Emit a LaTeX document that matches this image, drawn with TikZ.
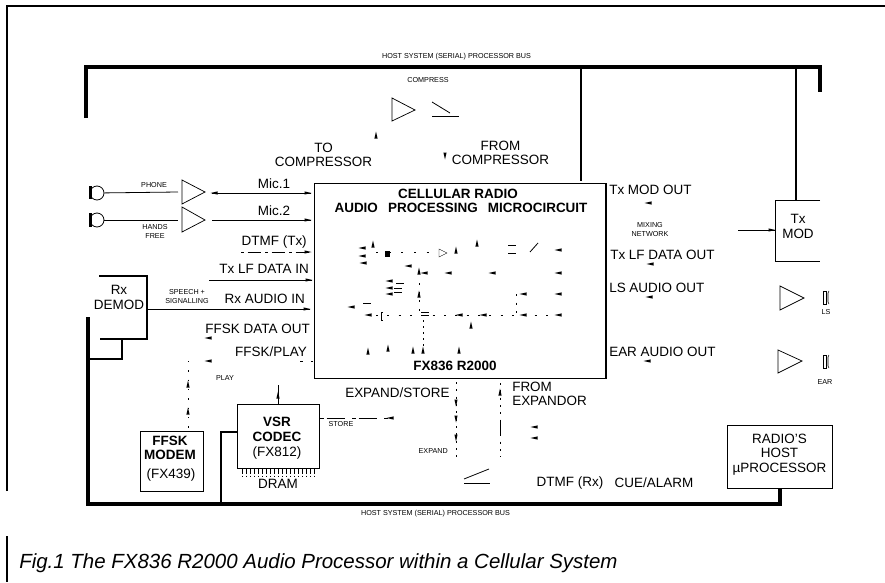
\documentclass[tikz,border=0pt]{standalone}
\usepackage{fontspec}
\setmainfont{Liberation Sans}
\newcommand{\fa}{\fontsize{10.1pt}{11pt}\selectfont}
\newcommand{\fb}{\fontsize{5.4pt}{6.6pt}\selectfont}
\newcommand{\arL}[2]{\fill (#1-3.5,#2) -- (#1+3.5,#2-1.6) -- (#1+3.5,#2+1.6) -- cycle;}
\newcommand{\arR}[2]{\fill (#1+3.5,#2) -- (#1-3.5,#2-1.6) -- (#1-3.5,#2+1.6) -- cycle;}
\newcommand{\arU}[2]{\fill (#1,#2-3.5) -- (#1-1.6,#2+3.5) -- (#1+1.6,#2+3.5) -- cycle;}
\newcommand{\arD}[2]{\fill (#1,#2+3.5) -- (#1-1.6,#2-3.5) -- (#1+1.6,#2-3.5) -- cycle;}
\newcommand{\spk}[2]{\draw[thin] (#1,#2) rectangle (#1+3,#2+13); \draw[thin] (#1+6,#2) -- (#1+5,#2+2) -- (#1+5,#2+11) -- (#1+6,#2+13);}
\tikzset{
  txt/.style={inner sep=0pt,font=\fa,align=center},
  small/.style={inner sep=0pt,font=\fb,align=center},
  bold/.style={inner sep=0pt,font=\fa\bfseries,align=center},
  box/.style={draw,line width=0.8pt,inner sep=0pt},
  bus/.style={line width=3.3pt,line cap=butt},
  midbus/.style={line width=1.6pt},
  sig/.style={line width=0.6pt},
  amp/.style={line width=0.55pt},
}
\begin{document}
\begin{tikzpicture}[x=0.75pt,y=-0.75pt]
\useasboundingbox (0,0) rectangle (885,582);
% frame
\draw[line width=1.1pt] (7,491) -- (7,6) -- (885,6);
\draw[line width=1.1pt] (7,536) -- (7,582);

% blocks
\node[box,minimum width=218.6pt,minimum height=146pt,anchor=north west] (chip) at (314,183) {};
\node[box,line width=0.7pt,minimum width=47pt,minimum height=45pt,anchor=north west] (ffsk) at (140,431) {};
\node[box,minimum width=61.5pt,minimum height=48pt,anchor=north west] (vsr) at (237,404) {};
\node[box,line width=0.6pt,minimum width=78.5pt,minimum height=47pt,anchor=north west] (host) at (727,425) {};
\coordinate (dmNW) at (99,276);
\coordinate (dmNE) at (147,276);
\coordinate (dmSE) at (147,339);
\coordinate (dmSW) at (100,339);
\draw[line width=0.8pt] (dmNW) -- (dmNE) -- (dmSE) -- (dmSW);
\coordinate (modNW) at (775,200);
\coordinate (modSW) at (775,261);
\coordinate (modNE) at (820,200);
\coordinate (modSE) at (820,261);
\draw[line width=0.7pt] (modNE) -- (modNW) -- (modSW) -- (modSE);

% bus
\coordinate (busTL) at (86,67);
\coordinate (busTR) at (820,67);
\draw[bus] (86,118) -- (busTL) -- (busTR) -- (820,92);
\coordinate (busBL) at (88,504);
\coordinate (hostS) at (780,504);
\draw[bus] (88,317) -- (busBL) -- (hostS) -- (780,488);
\coordinate (t1) at (581,67); \coordinate (t1b) at (581,181);
\draw[midbus] (t1) -- (t1b);
\coordinate (t2) at (796,67);
\draw[midbus] (t2) -- (796,200);
\coordinate (b1) at (221,504); \coordinate (vsrW) at (237,432);
\draw[line width=1.7pt] (b1) -- (221,432) -- (vsrW);
\draw[line width=1.2pt] (122,339) -- (122,359) -- (88,359);

% mics
\node[draw,circle,line width=0.6pt,minimum size=10.5pt,inner sep=0pt] (m1) at (97,193) {};
\node[draw,circle,line width=0.6pt,minimum size=10.5pt,inner sep=0pt] (m2) at (97,220) {};
\draw[line width=1.7pt] (90.5,186) -- (90.5,199);
\draw[line width=1.7pt] (90.5,213) -- (90.5,227);
\coordinate (a1) at (178,192); \coordinate (a2) at (178,220);
\draw[sig] (m1) -- (a1);
\draw[sig] (m2) -- (a2);
\draw[amp] (182,180) -- (205,192) -- (182,204) -- cycle;
\draw[amp] (182,207) -- (205,220) -- (182,232) -- cycle;
\coordinate (i1) at (212,193); \coordinate (i2) at (212,220);
\coordinate (c1) at (311,193); \coordinate (c2) at (311,220);
\draw[sig] (i1) -- (c1); \draw[sig] (i2) -- (c2);
\arR{308}{193} \arR{308}{220} \arL{214}{193}
\draw[sig] (209,280) -- (312,280); \arR{309}{280}
\draw[line width=0.3pt,dash pattern=on 2pt off 3pt on 10pt off 3pt] (241,252) -- (311,252); \arR{308}{252}
\draw[sig] (dmSE |- 0,309) -- (310,309); \arR{307}{309}
\arL{208}{338} \arL{208}{361}
\draw[line width=0.25pt,dash pattern=on 1pt off 6pt] (188,361) -- (188,431);
\arU{188}{384} \arU{188}{411}
\draw[line width=0.3pt,dash pattern=on 2pt off 6pt] (300,361) -- (314,361);
\draw[sig] (278,385) -- (278,404); \arU{278}{395}
\draw[line width=0.3pt,dash pattern=on 3pt off 2pt on 14pt off 5pt] (320,418) -- (390,418); \arL{390}{418}
% pins
\foreach \x in {242,246,...,314} {\draw[line width=0.3pt,dash pattern=on 4pt off 1pt] (\x,469) -- (\x,477);}

% compressor
\draw[amp] (392,98) -- (415,110) -- (392,121) -- cycle;
\draw[sig] (432,102) -- (450,113);
\draw[sig] (432,116) -- (459,116);
\arU{376}{135} \arD{445}{156}
% expander
\draw[sig] (464,479) -- (489,469);
\draw[sig] (464,483) -- (490,483);
\draw[line width=0.25pt,dash pattern=on 1.5pt off 4pt] (456,382) -- (456,458);
\arD{456}{403} \arD{456}{419} \arD{456}{438}
\draw[line width=0.25pt,dash pattern=on 1.5pt off 4pt] (500,383) -- (500,457);
\draw[line width=0.4pt] (500,420) -- (500,436);
\arU{500}{392} \arL{534}{427} \arL{534}{438}
% right side
\arL{648}{203} \arL{650}{264} \arL{649}{297} \arL{647}{361}
\coordinate (mixR) at (738,230);
\draw[sig] (mixR) -- (775,230); \arR{772}{230}
\draw[amp] (780,286) -- (804,298) -- (780,310) -- cycle;
\draw[amp] (778,350) -- (802,361) -- (778,373) -- cycle;
\spk{823}{291} \spk{823}{355}

% chip internals
\foreach \a/\b in {362/248,362/256,363/263,408/266,424/273,448/273,492/273,558/273,558/250,389/281,389/288,389/294,523/294,558/294,351/307,368/315,523/315,558/315,483/315,459/315}{\arL{\a}{\b}}
\foreach \a/\b in {373/244,456/250,419/271,419/294,471/325,368/351,388/348,413/350,423/350,459/350,477/243}{\arU{\a}{\b}}
\foreach \a/\b in {512/245,512/253,425/312,425/315,400/283,398/288,398/292,367/303}{\draw[line width=0.7pt] (\a-4,\b) -- (\a+4,\b);}
\fill (385,251) rectangle (390,257);
\draw[line width=0.3pt] (439,249) -- (447,253) -- (439,257) -- cycle;
\draw[line width=0.6pt] (530,252) -- (538,243);
\draw[line width=0.5pt] (383,312) -- (381,312) -- (381,320) -- (383,320);
\draw[line width=0.2pt,dash pattern=on 1.5pt off 5pt] (419,283) -- (419,312);
\draw[line width=0.2pt,dash pattern=on 1.5pt off 7pt] (376,315) -- (555,315);
\draw[line width=0.2pt,dash pattern=on 1.5pt off 5pt] (516,294) -- (516,315);
\draw[line width=0.2pt,dash pattern=on 1.5pt off 3pt] (423,320) -- (423,348);
\draw[line width=0.2pt,dash pattern=on 1.5pt off 8pt] (376,252) -- (437,252);

% labels
\node[small] (tbus) at (456.5,57) {HOST SYSTEM (SERIAL) PROCESSOR BUS};
\node[small] (bbus) at (435.5,514) {HOST SYSTEM (SERIAL) PROCESSOR BUS};
\node[small] (lcomp) at (428,80) {COMPRESS};
\node[txt] (lto) at (323.5,155) {TO\\COMPRESSOR};
\node[txt] (lfrom) at (500.5,153) {FROM\\COMPRESSOR};
\node[small] (lphone) at (154,185) {PHONE};
\node[small] (lhands) at (155,231.5) {HANDS\\FREE};
\node[txt] (lm1) at (274,184) {Mic.1};
\node[txt] (lm2) at (274,211) {Mic.2};
\node[txt,anchor=east] (ldt) at (307,242) {DTMF (Tx)};
\node[txt,anchor=east] (llf) at (309,269) {Tx LF DATA IN};
\node[txt,anchor=east] (lrx) at (305,299) {Rx AUDIO IN};
\node[txt,anchor=east] (lfd) at (310,329) {FFSK DATA OUT};
\node[txt,anchor=east] (lfp) at (307,352) {FFSK/PLAY};
\node[small] (lsp) at (187,296.5) {SPEECH +\\SIGNALLING};
\node[small] (lplay) at (225,378) {PLAY};
\node[txt] (ldm) at (119,297.5) {Rx\\DEMOD};
\node[bold] (lff) at (170,448) {FFSK\\MODEM};
\node[txt] (l439) at (171,475) {(FX439)};
\node[bold] (lvs) at (277,429.5) {VSR\\CODEC};
\node[txt] (l812) at (277,453) {(FX812)};
\node[txt] (ldram) at (278,484) {DRAM};
\node[small] (lstore) at (341,424) {STORE};
\node[small,anchor=east] (lexp) at (448,451) {EXPAND};
\node[txt,anchor=west] (les) at (345,393) {EXPAND/STORE};
\node[txt,align=left,anchor=west] (lfe) at (512,394) {FROM\\EXPANDOR};
\node[bold] (lt1) at (458,194) {CELLULAR RADIO};
\node[bold] (lt2) at (461,208) {AUDIO\hspace{0.75em}PROCESSING\hspace{0.75em}MICROCIRCUIT};
\node[bold] (lt3) at (455,366) {FX836 R2000};
\node[txt,anchor=west] (ltm) at (609,190) {Tx MOD OUT};
\node[small] (lmix) at (650,229.5) {MIXING\\NETWORK};
\node[txt,anchor=west] (ltd) at (610,255) {Tx LF DATA OUT};
\node[txt,anchor=west] (lls) at (609,288) {LS AUDIO OUT};
\node[txt,anchor=west] (lea) at (609,352) {EAR AUDIO OUT};
\node[txt] (lmod) at (798,226.5) {Tx\\MOD};
\node[small] (lLS) at (826,312) {LS};
\node[small] (lEAR) at (825,382) {EAR};
\node[txt] (lr) at (779.5,454.5) {RADIO'S\\HOST\\µPROCESSOR};
\node[txt] (ldr) at (570,483) {DTMF (Rx)};
\node[txt] (lca) at (654,483) {CUE/ALARM};
\node[inner sep=0pt,anchor=west,font=\fontsize{15.35pt}{17pt}\selectfont\itshape] (cap) at (19,563) {Fig.1 The FX836 R2000 Audio Processor within a Cellular System};
\end{tikzpicture}
\end{document}
